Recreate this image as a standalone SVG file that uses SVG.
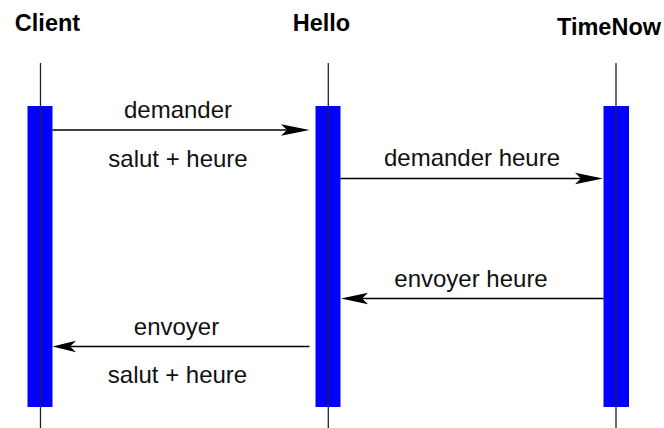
<svg xmlns="http://www.w3.org/2000/svg" width="664" height="428" viewBox="0 0 664 428">
<style>
.title{font-family:"Liberation Sans",Arial,sans-serif;font-weight:bold;font-size:23.5px;fill:#000;text-anchor:middle}
.lbl{font-family:"Liberation Sans",Arial,sans-serif;font-size:24px;fill:#111;text-anchor:middle}
.life{stroke:#222;stroke-width:1.3;fill:none}
.bar{fill:#0000ff}
.msg{stroke:#000;stroke-width:1.3;fill:none}
.head{fill:#000;stroke:none}
</style>
<rect width="664" height="428" fill="#fff"/>
<g id="client">
<text class="title" x="47.5" y="31">Client</text>
<rect class="bar" x="27.5" y="106" width="25" height="301"/>
<line class="life" x1="40.5" y1="63" x2="40.5" y2="428"/>
</g>
<g id="hello">
<text class="title" x="321.5" y="31">Hello</text>
<rect class="bar" x="315.5" y="106" width="25" height="301"/>
<line class="life" x1="328.3" y1="63" x2="328.3" y2="428"/>
</g>
<g id="timenow">
<text class="title" x="609" y="35">TimeNow</text>
<rect class="bar" x="603.5" y="106" width="25.5" height="301"/>
<line class="life" x1="616" y1="63" x2="616" y2="428"/>
</g>
<g id="connectors">
<line class="msg" x1="52.5" y1="130" x2="290" y2="130"/>
<polygon class="head" points="309.5,130 281,124.3 287,130 281,135.7"/>
<text class="lbl" x="178" y="118">demander</text>
<text class="lbl" x="178" y="166.5">salut + heure</text>

<line class="msg" x1="340.5" y1="178.5" x2="585" y2="178.5"/>
<polygon class="head" points="603,178.5 575,172.8 581,178.5 575,184.2"/>
<text class="lbl" x="472" y="166">demander heure</text>

<line class="msg" x1="603.5" y1="298.5" x2="360" y2="298.5"/>
<polygon class="head" points="341,298.5 368,292.8 362,298.5 368,304.2"/>
<text class="lbl" x="471" y="286.5">envoyer heure</text>

<line class="msg" x1="309.5" y1="346.5" x2="70" y2="346.5"/>
<polygon class="head" points="52.5,346.5 76,340.8 70,346.5 76,352.2"/>
<text class="lbl" x="176.5" y="335">envoyer</text>
<text class="lbl" x="177.5" y="382.5">salut + heure</text>
</g>
</svg>
